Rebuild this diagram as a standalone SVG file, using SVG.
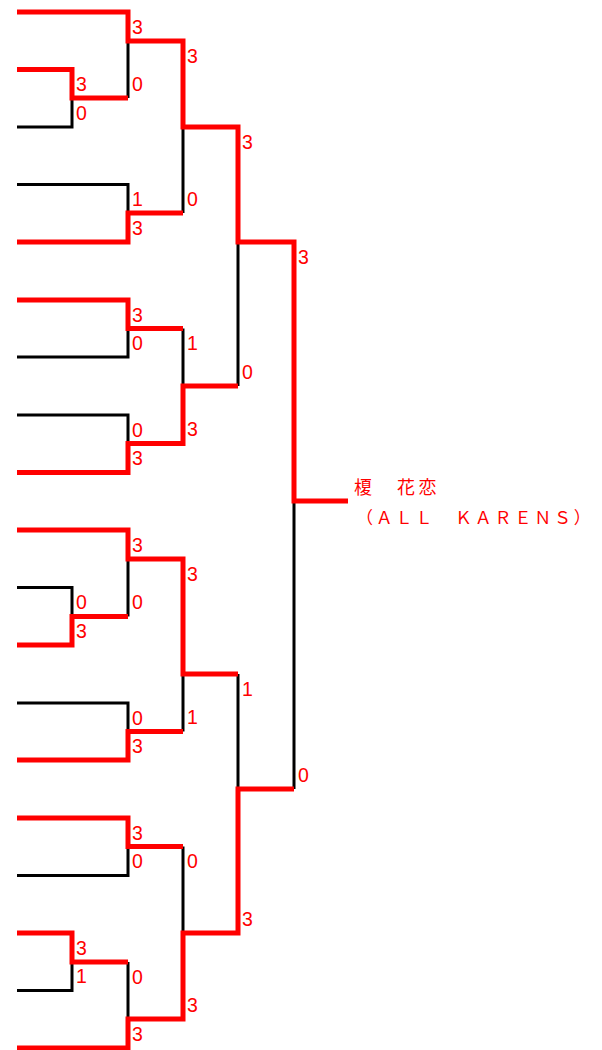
<svg xmlns="http://www.w3.org/2000/svg" width="602" height="1050" viewBox="0 0 602 1050">
<style>
.b{fill:none;stroke:#000;stroke-width:3;stroke-linejoin:miter;stroke-linecap:butt}
.r{fill:none;stroke:#ff0000;stroke-width:5;stroke-linejoin:miter;stroke-linecap:butt}
.s{font-family:"Liberation Sans",Arial,sans-serif;font-size:19.5px;fill:#ff0000}
.n{font-family:"Noto Sans CJK JP","Noto Sans",sans-serif;fill:#ff0000}
</style>
<rect width="602" height="1050" fill="#fff"/>
<g id="connectors">
<g id="losers">
<path class="b" d="M17,127 H72 V98"/>
<path class="b" d="M128,41 V98"/>
<path class="b" d="M17,184.5 H128 V213"/>
<path class="b" d="M183,127 V213"/>
<path class="b" d="M17,357 H128 V328.5"/>
<path class="b" d="M183,328.5 V386"/>
<path class="b" d="M17,415 H128 V443.5"/>
<path class="b" d="M238,242 V386"/>
<path class="b" d="M17,587.5 H72 V616.5"/>
<path class="b" d="M128,559 V616.5"/>
<path class="b" d="M17,703 H128 V731.5"/>
<path class="b" d="M183,674 V731.5"/>
<path class="b" d="M238,674 V789"/>
<path class="b" d="M294,501 V789"/>
<path class="b" d="M17,875.5 H128 V846.5"/>
<path class="b" d="M183,846.5 V933"/>
<path class="b" d="M17,990.5 H72 V962"/>
<path class="b" d="M128,962 V1019"/>
</g>
<g id="winners">
<path class="r" d="M17,12 H128 V41 H183 V127 H238 V242 H294 V501 H348"/>
<path class="r" d="M17,69.5 H72 V98 H128"/>
<path class="r" d="M17,242 H128 V213 H183"/>
<path class="r" d="M17,300 H128 V328.5 H183"/>
<path class="r" d="M17,472.5 H128 V443.5 H183 V386 H238"/>
<path class="r" d="M17,530 H128 V559 H183 V674 H238"/>
<path class="r" d="M17,645 H72 V616.5 H128"/>
<path class="r" d="M17,760 H128 V731.5 H183"/>
<path class="r" d="M17,818 H128 V846.5 H183"/>
<path class="r" d="M17,933 H72 V962 H128"/>
<path class="r" d="M17,1048 H128 V1019 H183 V933 H238 V789 H294"/>
</g>
</g>
<g id="scores">
<text class="s" x="76" y="91">3</text>
<text class="s" x="76" y="120">0</text>
<text class="s" x="76" y="609">0</text>
<text class="s" x="76" y="638">3</text>
<text class="s" x="76" y="954.5">3</text>
<text class="s" x="76" y="983">1</text>

<text class="s" x="132" y="33.5">3</text>
<text class="s" x="132" y="90.5">0</text>
<text class="s" x="132" y="206">1</text>
<text class="s" x="132" y="234.5">3</text>
<text class="s" x="132" y="321.5">3</text>
<text class="s" x="132" y="349.5">0</text>
<text class="s" x="132" y="436.5">0</text>
<text class="s" x="132" y="465">3</text>
<text class="s" x="132" y="551.5">3</text>
<text class="s" x="132" y="609">0</text>
<text class="s" x="132" y="724.5">0</text>
<text class="s" x="132" y="752.5">3</text>
<text class="s" x="132" y="839.5">3</text>
<text class="s" x="132" y="868">0</text>
<text class="s" x="132" y="983.5">0</text>
<text class="s" x="132" y="1040.5">3</text>

<text class="s" x="187" y="62.5">3</text>
<text class="s" x="187" y="205.5">0</text>
<text class="s" x="187" y="350">1</text>
<text class="s" x="187" y="436">3</text>
<text class="s" x="187" y="580.5">3</text>
<text class="s" x="187" y="724">1</text>
<text class="s" x="187" y="868">0</text>
<text class="s" x="187" y="1011.5">3</text>

<text class="s" x="242" y="148.5">3</text>
<text class="s" x="242" y="378.5">0</text>
<text class="s" x="242" y="695.5">1</text>
<text class="s" x="242" y="925.5">3</text>

<text class="s" x="298" y="263.5">3</text>
<text class="s" x="298" y="781.5">0</text>
</g>
<g id="champion">
<text class="n" x="354" y="494" font-size="18" letter-spacing="3.5">榎　花恋</text>
<text class="n" x="356" y="524" font-size="17" letter-spacing="2.8">（ＡＬＬ　ＫＡＲＥＮＳ）</text>
</g>
</svg>
